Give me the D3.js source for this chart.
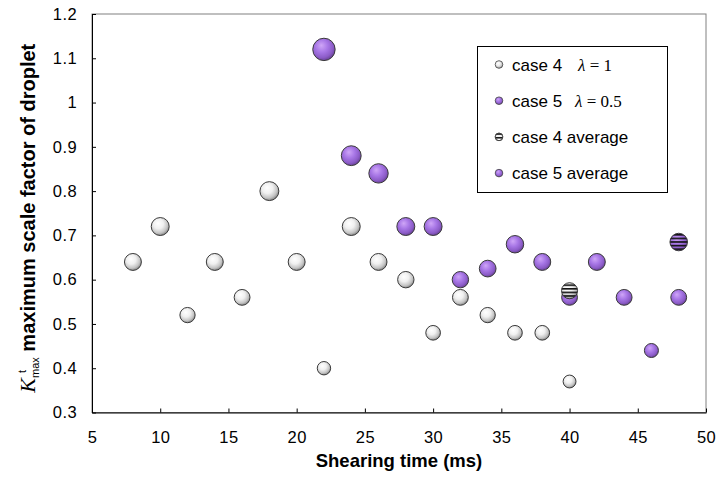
<!DOCTYPE html>
<html>
<head>
<meta charset="utf-8">
<script src="https://cdn.jsdelivr.net/npm/d3@7"></script>
<style>
  body { margin: 0; background: #fff; }
  svg text { font-family: "Liberation Sans", Arial, sans-serif; }
</style>
</head>
<body>
<svg id="chart"></svg>
<script>
// shearing time (ms) and max scale factor per case
const case4Time = [8, 10, 12, 14, 16, 18, 20, 22, 24, 26, 28, 30, 32, 34, 36, 38, 40];
const case4K    = [0.64, 0.72, 0.52, 0.64, 0.56, 0.80, 0.64, 0.40, 0.72, 0.64, 0.60, 0.48, 0.56, 0.52, 0.48, 0.48, 0.37];
const case5Time = [22, 24, 26, 28, 30, 32, 34, 36, 38, 40, 42, 44, 46, 48];
const case5K    = [1.12, 0.88, 0.84, 0.72, 0.72, 0.60, 0.625, 0.68, 0.64, 0.56, 0.64, 0.56, 0.44, 0.56];
const case4AvgTime = [40];
const case4AvgK    = [0.575];
const case5AvgTime = [48];
const case5AvgK    = [0.685];

const xTicks = [5, 10, 15, 20, 25, 30, 35, 40, 45, 50];
const yTicks = [0.3, 0.4, 0.5, 0.6, 0.7, 0.8, 0.9, 1, 1.1, 1.2];

const width = 716, height = 483;
const margin = {top: 14, right: 10, bottom: 70.5, left: 92};

const svg = d3.select('#chart')
  .attr('width', width)
  .attr('height', height);

const x = d3.scaleLinear().domain([5, 50]).range([margin.left, width - margin.right]);
const y = d3.scaleLinear().domain([0.3, 1.2]).range([height - margin.bottom, margin.top]);
// bubble size follows the value (area ~ value)
const r = d3.scaleSqrt().domain([0, 1.12]).range([0, 11.2]);

const defs = svg.append('defs');

function ball(id, stops) {
  const g = defs.append('radialGradient')
    .attr('id', id)
    .attr('cx', 0.42).attr('cy', 0.38).attr('r', 0.62)
    .attr('fx', 0.38).attr('fy', 0.32);
  stops.forEach(s => g.append('stop').attr('offset', s[0]).attr('stop-color', s[1]));
}
ball('gWhite', [[0, '#ffffff'], [0.45, '#f0f0f0'], [0.8, '#c4c4c4'], [1, '#8a8a8a']]);
ball('gPurple', [[0, '#cfa6f7'], [0.45, '#a877e6'], [0.8, '#8c5cc8'], [1, '#6a4498']]);

const stripes = defs.append('pattern')
  .attr('id', 'stripes')
  .attr('patternUnits', 'userSpaceOnUse')
  .attr('width', 6).attr('height', 3.6);
stripes.append('rect')
  .attr('width', 6).attr('height', 1.6)
  .attr('fill', '#111');

// plot area border (top / right in grey)
svg.append('rect')
  .attr('x', x(5)).attr('y', y(1.2))
  .attr('width', x(50) - x(5)).attr('height', y(0.3) - y(1.2))
  .attr('fill', 'none')
  .attr('stroke', '#808080');

// axes
const xAxis = d3.axisBottom(x)
  .tickValues(xTicks)
  .tickFormat(d => d)
  .tickSizeInner(-4).tickSizeOuter(0)
  .tickPadding(19);

const yAxis = d3.axisLeft(y)
  .tickValues(yTicks)
  .tickFormat(d => d)
  .tickSizeInner(-4).tickSizeOuter(0)
  .tickPadding(15);

const gx = svg.append('g')
  .attr('transform', `translate(0,${y(0.3)})`)
  .call(xAxis);
const gy = svg.append('g')
  .attr('transform', `translate(${x(5)},0)`)
  .call(yAxis);

[gx, gy].forEach(g => {
  g.selectAll('path, line').attr('stroke', '#000');
  g.selectAll('text')
    .attr('fill', '#000')
    .style('font-size', '16.5px')
    .style('letter-spacing', '0.4px')
    .style('font-family', '"Liberation Sans", Arial, sans-serif');
});

// bubbles
function drawBubbles(times, vals, fill) {
  svg.append('g')
    .selectAll('circle')
    .data(times.map((t, i) => ({t, v: vals[i]})))
    .join('circle')
    .attr('cx', d => x(d.t))
    .attr('cy', d => y(d.v))
    .attr('r', d => r(d.v))
    .attr('fill', fill)
    .attr('stroke', '#3a3a3a')
    .attr('stroke-width', 1);
}
drawBubbles(case4Time, case4K, 'url(#gWhite)');
drawBubbles(case5Time, case5K, 'url(#gPurple)');

function drawAverage(times, vals, fill) {
  const data = times.map((t, i) => ({t, v: vals[i]}));
  const g = svg.append('g');
  g.selectAll('circle.base')
    .data(data)
    .join('circle')
    .attr('class', 'base')
    .attr('cx', d => x(d.t)).attr('cy', d => y(d.v))
    .attr('r', d => r(d.v))
    .attr('fill', fill);
  g.selectAll('circle.hatch')
    .data(data)
    .join('circle')
    .attr('class', 'hatch')
    .attr('cx', d => x(d.t)).attr('cy', d => y(d.v))
    .attr('r', d => r(d.v))
    .attr('fill', 'url(#stripes)')
    .attr('stroke', '#3a3a3a');
}
drawAverage(case4AvgTime, case4AvgK, 'url(#gWhite)');
drawAverage(case5AvgTime, case5AvgK, 'url(#gPurple)');

// axis titles
svg.append('text')
  .attr('x', (x(5) + x(50)) / 2)
  .attr('y', 466.5)
  .attr('text-anchor', 'middle')
  .style('font-size', '18.5px')
  .style('font-weight', 'bold')
  .text('Shearing time (ms)');

const yt = svg.append('text')
  .attr('transform', `translate(35,${(y(0.3) + y(1.2)) / 2 + 5}) rotate(-90)`)
  .attr('text-anchor', 'middle')
  .style('font-size', '20px')
  .style('font-weight', 'bold');
yt.append('tspan')
  .style('font-family', '"Liberation Serif", "Times New Roman", serif')
  .style('font-style', 'italic')
  .style('font-weight', 'normal')
  .style('font-size', '22px')
  .text('K');
yt.append('tspan')
  .attr('dx', 5).attr('dy', -9)
  .style('font-size', '11px').style('font-weight', 'normal')
  .text('t');
yt.append('tspan')
  .attr('dx', -8).attr('dy', 13)
  .style('font-size', '11px').style('font-weight', 'normal')
  .text('max');
yt.append('tspan')
  .attr('dy', -4)
  .text(' maximum scale factor of droplet');

// legend
const legendItems = [
  {label: 'case 4', lambda: 'λ = 1', fill: 'url(#gWhite)', hatch: false},
  {label: 'case 5', lambda: 'λ = 0.5', fill: 'url(#gPurple)', hatch: false},
  {label: 'case 4 average', lambda: null, fill: '#fff', hatch: true},
  {label: 'case 5 average', lambda: null, fill: 'url(#gPurple)', hatch: false}
];

const legend = svg.append('g');
legend.append('rect')
  .attr('x', 477.5).attr('y', 46.5)
  .attr('width', 190).attr('height', 146)
  .attr('fill', '#fff')
  .attr('stroke', '#000');

const rows = legend.selectAll('g.row')
  .data(legendItems)
  .join('g')
  .attr('class', 'row')
  .attr('transform', (d, i) => `translate(499,${64.5 + i * 36.2})`);

rows.append('circle')
  .attr('r', 3.8)
  .attr('fill', d => d.fill)
  .attr('stroke', '#444')
  .attr('stroke-width', 0.8);
rows.filter(d => d.hatch)
  .append('circle')
  .attr('r', 3.8)
  .attr('fill', 'url(#stripes)')
  .attr('stroke', '#444')
  .attr('stroke-width', 0.8);

rows.append('text')
  .attr('x', 13).attr('y', 6)
  .style('font-size', '17px')
  .text(d => d.label);

rows.filter(d => d.lambda)
  .append('text')
  .attr('x', (d, i) => i === 0 ? 79 : 76)
  .attr('y', 6)
  .style('font-family', '"Liberation Serif", "Times New Roman", serif')
  .style('font-size', '17px')
  .each(function(d) {
    const parts = d.lambda.split(' = ');
    const t = d3.select(this);
    t.append('tspan').style('font-style', 'italic').text(parts[0]);
    t.append('tspan').text(' = ' + parts[1]);
  });
</script>
</body>
</html>
